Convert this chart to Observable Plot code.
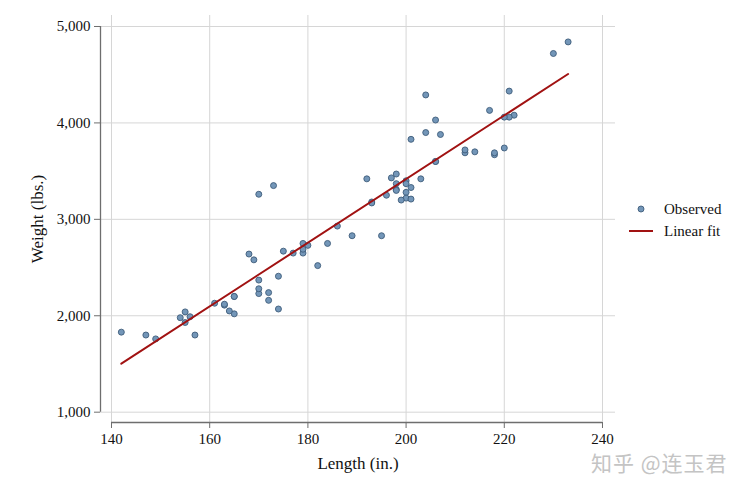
<!DOCTYPE html>
<html>
<head>
<meta charset="utf-8">
<script src="https://cdn.jsdelivr.net/npm/d3@7"></script>
<script src="https://cdn.jsdelivr.net/npm/@observablehq/plot@0.6"></script>
<style>
  html, body { margin: 0; padding: 0; background: #fff; }
  #wrap { position: relative; width: 750px; height: 495px; font-family: "Liberation Serif", "Times New Roman", serif; }
  #wrap svg, #wrap svg text { font-family: "Liberation Serif", "Times New Roman", serif !important; }
  #legend { position: absolute; left: 626px; top: 198px; font-size: 15px; color: #111; line-height: 22px; }
  #legend .row { display: flex; align-items: center; height: 22px; }
  #legend svg { width: 30px; height: 22px; margin-right: 8px; }
  #wm { position: absolute; left: 591px; top: 452px; line-height: 1; font-family: "Noto Sans CJK SC", sans-serif; font-size: 21px; color: #c4c4c4; letter-spacing: 1px; }
</style>
</head>
<body>
<div id="wrap"></div>
<script>
// auto data: length (in.) and weight (lbs.)
const lengths = [186,173,168,196,222,218,170,200,207,200,221,204,204,163,212,193,200,179,197,163,206,206,220,147,179,233,230,201,169,221,212,198,217,195,220,198,198,218,200,180,206,170,157,165,182,201,214,198,201,199,203,179,189,174,177,170,165,170,184,161,172,149,154,192,142,164,174,165,175,172,155,155,156,193];
const weights = [2930,3350,2640,3250,4080,3670,2230,3280,3880,3400,4330,3900,4290,2110,3690,3180,3220,2750,3430,2120,3600,3600,3740,1800,2650,4840,4720,3830,2580,4060,3720,3370,4130,2830,4060,3310,3300,3690,3370,2730,4030,3260,1800,2200,2520,3330,3700,3470,3210,3200,3420,2690,2830,2070,2650,2370,2020,2280,2750,2130,2240,1760,1980,3420,1830,2050,2410,2200,2670,2160,2040,1930,1990,3170];
const xTicks = [140,160,180,200,220,240];
const yTicks = [1000,2000,3000,4000,5000];
const seriesNames = ["Observed","Linear fit"];
const pointFill = "#7396b8", pointStroke = "#3e5c7b", lineColor = "#a11212";

const data = lengths.map((l, i) => ({length: l, weight: weights[i]}));

const xDomain = [137.76, 242.65];
const yDomain = [893, 5114];
const font = "'Liberation Serif', 'Times New Roman', serif";

const chart = Plot.plot({
  width: 750,
  height: 495,
  marginLeft: 100,
  marginRight: 135,
  marginTop: 15,
  marginBottom: 73,
  x: {domain: xDomain},
  y: {domain: yDomain},
  style: {fontFamily: font, fontSize: "15px", color: "#111", background: "#fff"},
  marks: [
    Plot.gridX(xTicks, {stroke: "#d6d6d6", strokeOpacity: 1, strokeWidth: 1}),
    Plot.gridY(yTicks, {stroke: "#d6d6d6", strokeOpacity: 1, strokeWidth: 1}),
    Plot.ruleX([xDomain[0]], {y1: yTicks[0], y2: yTicks[yTicks.length - 1], stroke: "#6e6e6e", strokeWidth: 1.3}),
    Plot.ruleY([yDomain[0]], {x1: xTicks[0], x2: xTicks[xTicks.length - 1], stroke: "#6e6e6e", strokeWidth: 1.3}),
    Plot.axisY(yTicks, {anchor: "left", tickSize: 6, tickPadding: 4, stroke: "#6e6e6e", fill: "#111", fontSize: 15,
      tickFormat: d3.format(","), label: "Weight (lbs.)", labelAnchor: "center", labelOffset: 70, labelArrow: "none"}),
    Plot.axisX(xTicks, {anchor: "bottom", tickSize: 6, tickPadding: 5, stroke: "#6e6e6e", fill: "#111", fontSize: 15,
      label: "Length (in.)", labelAnchor: "center", labelOffset: 46, labelArrow: "none"}),
    Plot.dot(data, {x: "length", y: "weight", r: 3, fill: pointFill, stroke: pointStroke, strokeWidth: 0.9}),
    Plot.linearRegressionY(data, {x: "length", y: "weight", ci: 0, stroke: lineColor, strokeWidth: 2})
  ]
});

// enlarge axis labels
chart.querySelectorAll("g[aria-label='x-axis label'] text, g[aria-label='y-axis label'] text").forEach(t => t.setAttribute("font-size", "17"));

const wrap = document.getElementById("wrap");
wrap.appendChild(chart);

const legend = document.createElement("div");
legend.id = "legend";
legend.innerHTML = `
  <div class="row"><svg><circle cx="15" cy="11" r="3" fill="${pointFill}" stroke="${pointStroke}" stroke-width="0.9"/></svg><span>${seriesNames[0]}</span></div>
  <div class="row"><svg><line x1="3" x2="27" y1="11" y2="11" stroke="${lineColor}" stroke-width="2"/></svg><span>${seriesNames[1]}</span></div>`;
wrap.appendChild(legend);

const wm = document.createElement("div");
wm.id = "wm";
wm.textContent = "知乎 @连玉君";
wrap.appendChild(wm);
</script>
</body>
</html>
